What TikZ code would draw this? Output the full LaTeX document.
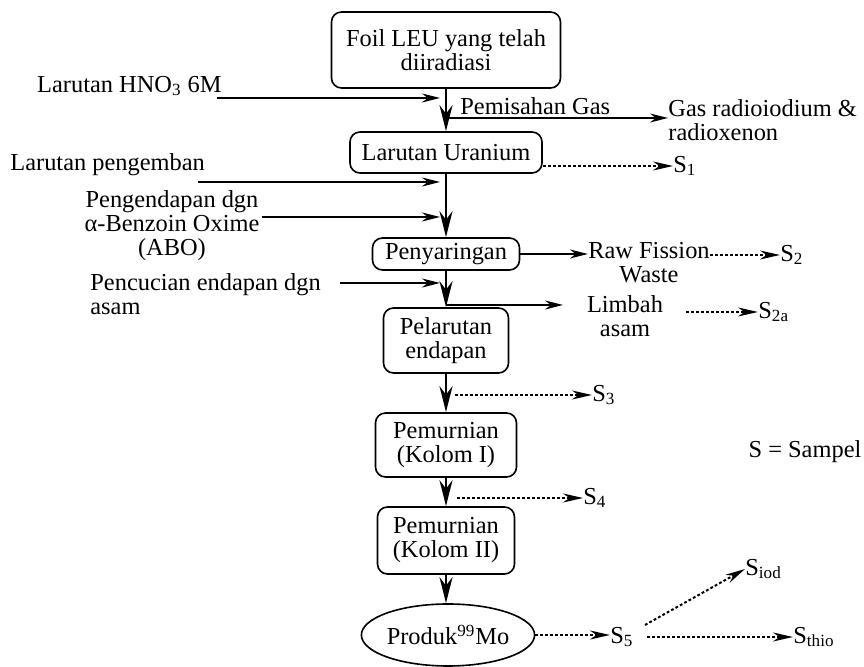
\documentclass[tikz,border=0pt]{standalone}
\usepackage{fontspec}
\setmainfont{Liberation Serif}
\usetikzlibrary{positioning, calc, arrows.meta, shapes.geometric}

\tikzset{
  stepbox/.style={draw, line width=0.8pt, rounded corners=5pt, align=center},
  flow/.style={line width=0.8pt, -{Stealth[length=13pt,width=6.5pt]}},
  feed/.style={line width=0.9pt, -{Stealth[length=9pt,width=4.5pt]}},
  sample/.style={line width=1pt, dash pattern=on 1.4pt off 1.1pt, -{Stealth[length=10pt,width=4.5pt]}},
}

\begin{document}
\begin{tikzpicture}[x=0.5pt, y=-0.5pt,
    every node/.style={inner sep=0pt, font=\fontsize{12.2}{12}\selectfont}]

    \useasboundingbox (0,0) rectangle (864,667);

    % ================= Main process line =================
    \node[stepbox, minimum width=114.5pt, minimum height=38pt] (foil) at (446,50) {Foil LEU yang telah\\diiradiasi};
    \node[stepbox, minimum width=96pt, minimum height=20.5pt] (uran) at (446,152.5) {Larutan Uranium};
    \node[stepbox, minimum width=73.5pt, minimum height=16pt] (saring) at (446,254) {Penyaringan};
    \node[stepbox, minimum width=62.5pt, minimum height=32.5pt] (larut) at (446,340.5) {Pelarutan\\endapan};
    \node[stepbox, minimum width=70.5pt, minimum height=32pt] (kolom1) at (446,445) {Pemurnian\\(Kolom I)};
    \node[stepbox, minimum width=68.5pt, minimum height=33.5pt] (kolom2) at (446,540.5) {Pemurnian\\(Kolom II)};
    \node[draw, ellipse, line width=0.8pt, minimum width=85pt, minimum height=31pt] (produk) at (448,635) {Produk\textsuperscript{99}Mo};

    \draw[flow] (foil) -- (uran);
    \draw[flow] (uran) -- (saring);
    \draw[flow] (saring) -- (larut);
    \draw[flow] (larut) -- (kolom1);
    \draw[flow] (kolom1) -- (kolom2);
    \draw[flow] (kolom2.south) -- (kolom2.south |- produk.north);

    % ================= Inputs from the left =================
    \node[anchor=east] (hnoT) at (222,86) {Larutan HNO\textsubscript{3} 6M};
    \coordinate (hnoIn) at (217,98);
    \coordinate (hnoTip) at (440,98);
    \draw[feed] (hnoIn) -- (hnoTip);

    \node[anchor=west] (kembanT) at (10,165) {Larutan pengemban};
    \coordinate (kembanIn) at (198,182);
    \coordinate (kembanTip) at (440,182);
    \draw[feed] (kembanIn) -- (kembanTip);

    \node[align=center] (aboT) at (172,226) {Pengendapan dgn\\α-Benzoin Oxime\\(ABO)};
    \coordinate (aboIn) at (262,217);
    \coordinate (aboTip) at (440,217);
    \draw[feed] (aboIn) -- (aboTip);

    \node[anchor=west, align=left] (cuciT) at (90,294) {Pencucian endapan dgn\\asam};
    \coordinate (cuciIn) at (340,283);
    \coordinate (cuciTip) at (440,283);
    \draw[feed] (cuciIn) -- (cuciTip);

    % ================= Outputs to the right =================
    % gas separation
    \coordinate (gasOut) at (446,118);
    \node[anchor=west, align=left] (gasT) at (668,120) {Gas radioiodium \&\\radioxenon};
    \node[anchor=west] (gasL) at (460,106) {Pemisahan Gas};
    \draw[feed] (gasOut) -- (gasOut -| gasT.west);

    % fission waste
    \node[align=center] (raw) at (649,263) {Raw Fission\\Waste};
    \draw[feed] (saring.east) -- (saring.east -| raw.west);

    % acid waste
    \coordinate (limOut) at (446,305);
    \coordinate (limTip) at (563,305);
    \node[align=center] (limbah) at (625,316) {Limbah\\asam};
    \draw[feed] (limOut) -- (limTip);

    % ================= Samples =================
    \node[anchor=west] (s1) at (673,166) {S\textsubscript{1}};
    \node[anchor=west] (s2) at (780,255) {S\textsubscript{2}};
    \node[anchor=west] (s2a) at (758,312) {S\textsubscript{2a}};
    \node[anchor=west] (s3) at (592,395) {S\textsubscript{3}};
    \node[anchor=west] (s4) at (583,498) {S\textsubscript{4}};
    \node[anchor=west] (s5) at (610,637) {S\textsubscript{5}};
    \node[anchor=west] (siod) at (745,569) {S\textsubscript{iod}};
    \node[anchor=west] (sthio) at (793,637) {S\textsubscript{thio}};

    \coordinate (s3out) at (455,395);
    \coordinate (s4out) at (457,498);
    \coordinate (s5a) at (645,625);
    \coordinate (s5b) at (647,637);

    \draw[sample] (uran.east |- s1.west) -- (s1.west);
    \draw[sample] (raw.east |- s2.west) -- (s2.west);
    \draw[sample] ([xshift=11.5pt]limbah.east |- s2a.west) -- (s2a.west);
    \draw[sample] (s3out) -- (s3.west);
    \draw[sample] (s4out) -- (s4.west);
    \draw[sample] (produk.east) -- (produk.east -| s5.west);
    \draw[sample] (s5a) -- (siod.west);
    \draw[sample] (s5b) -- (sthio.west);

    % Legend
    \node (legend) at (805,452) {S = Sampel};

\end{tikzpicture}
\end{document}
